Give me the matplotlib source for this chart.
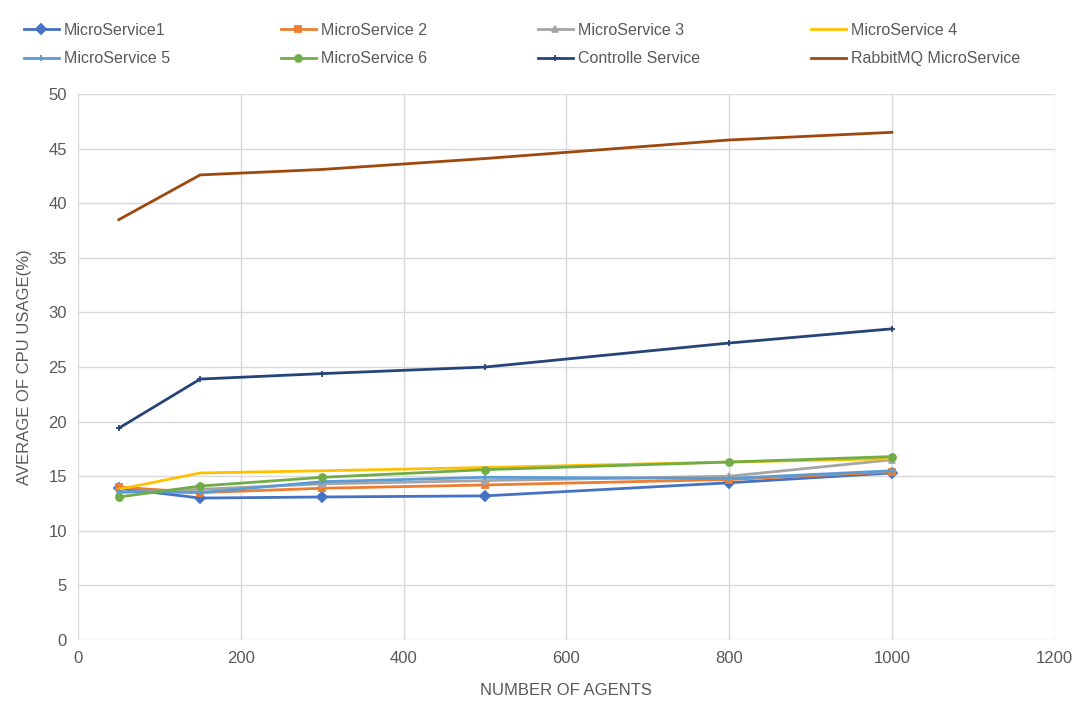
import matplotlib.pyplot as plt

agents = [50, 150, 300, 500, 800, 1000]

ms1 = [13.9, 13.0, 13.1, 13.2, 14.4, 15.3]
ms2 = [14.0, 13.5, 13.9, 14.2, 14.7, 15.4]
ms3 = [13.5, 13.8, 14.3, 14.6, 15.0, 16.5]
ms4 = [13.8, 15.3, 15.5, 15.8, 16.3, 16.6]
ms5 = [13.6, 13.5, 14.5, 14.9, 14.8, 15.5]
ms6 = [13.1, 14.1, 14.9, 15.6, 16.3, 16.8]
controller = [19.4, 23.9, 24.4, 25.0, 27.2, 28.5]
rabbitmq = [38.5, 42.6, 43.1, 44.1, 45.8, 46.5]

series = [
    ("MicroService1", ms1, "#4472C4", "D"),
    ("MicroService 2", ms2, "#ED7D31", "s"),
    ("MicroService 3", ms3, "#A5A5A5", "^"),
    ("MicroService 4", ms4, "#FFC000", None),
    ("MicroService 5", ms5, "#5B9BD5", "+"),
    ("MicroService 6", ms6, "#70AD47", "o"),
    ("Controlle Service", controller, "#264478", "+"),
    ("RabbitMQ MicroService", rabbitmq, "#9E480E", None),
]

plt.rcParams["font.family"] = ["Liberation Sans Narrow", "Liberation Sans", "DejaVu Sans"]
text_color = "#595959"

fig = plt.figure(figsize=(10.85, 7.13), dpi=100)
ax = fig.add_axes([0.072, 0.1024, 0.9, 0.7656])

for name, vals, color, marker in series:
    ax.plot(agents, vals, color=color, marker=marker, markersize=5,
            markeredgewidth=1.3, linewidth=2, label=name)

ax.set_xlim(0, 1200)
ax.set_ylim(0, 50)
ax.set_xticks(range(0, 1201, 200))
ax.set_yticks(range(0, 51, 5))
ax.grid(True, color="#D9D9D9", linewidth=1)
ax.set_axisbelow(True)
for s in ax.spines.values():
    s.set_visible(False)
ax.tick_params(length=0, labelsize=12, colors=text_color, pad=8)

ax.set_xlabel("NUMBER OF AGENTS", fontsize=12, color=text_color, labelpad=12)
ax.set_ylabel("AVERAGE OF CPU USAGE(%)", fontsize=12, color=text_color, labelpad=12)

# legend is filled column by column, so reorder to read row by row
handles, labels = ax.get_legend_handles_labels()
order = [0, 4, 1, 5, 2, 6, 3, 7]
fig.legend([handles[i] for i in order], [labels[i] for i in order], ncol=4,
           loc="lower left", bbox_to_anchor=(0.016, 0.898, 0.93, 0.09), mode="expand",
           frameon=False, fontsize=11.5, labelcolor=text_color,
           handlelength=2.2, handletextpad=0.3, borderaxespad=0,
           labelspacing=0.85)

fig.savefig("out.png", dpi=100)
